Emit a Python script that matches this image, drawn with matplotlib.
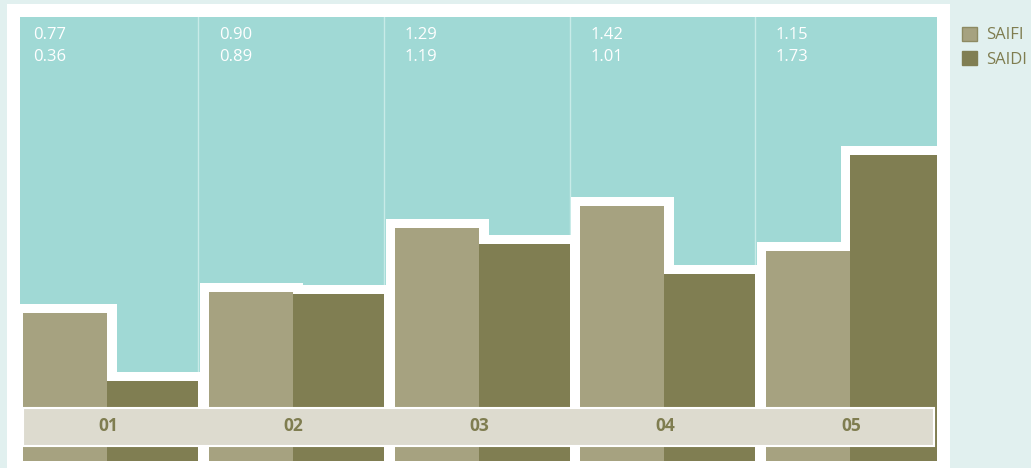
import matplotlib
matplotlib.use("Agg")
import matplotlib.pyplot as plt
from matplotlib.patches import Rectangle, Patch

plt.rcParams['font.family'] = ['Open Sans', 'DejaVu Sans']

# data
categories = ["01", "02", "03", "04", "05"]
saifi = [0.77, 0.90, 1.29, 1.42, 1.15]
saidi = [0.36, 0.89, 1.19, 1.01, 1.73]
series_names = ["SAIFI", "SAIDI"]

# colours
bg = "#e1f0ef"
teal = "#a0d9d5"
c_saifi = "#a6a280"
c_saidi = "#807e52"
band_c = "#dddbcf"
olive_txt = "#7f7d50"

W, H = 1031, 468
fig = plt.figure(figsize=(W / 100, H / 100), dpi=100, facecolor=bg)

# white panel behind the plot
fig.patches.append(Rectangle((7 / W, 0), (950 - 7) / W, (H - 4) / H,
                             transform=fig.transFigure, facecolor="white",
                             edgecolor="none", zorder=-1))

ax = fig.add_axes([20 / W, 0, (937 - 20) / W, (H - 17) / H])
ax.set_zorder(1)
ax.set_facecolor(teal)
ax.set_xticks([])
ax.set_yticks([])
for s in ax.spines.values():
    s.set_visible(False)

# one x unit = one group (185.75 px), one y unit = 164.5 px
w1 = 84 / 185.75
w2 = 91 / 185.75
bottom = -0.128
ax.set_xlim(-3 / 185.75, (937 - 23) / 185.75)
ax.set_ylim(-28 / 164.5, (440 - 17) / 164.5)

x = list(range(len(categories)))
x2 = [i + w1 for i in x]

# thin separators between columns
for i in x[:-1]:
    ax.axvline(i + w1 + w2, color="#c8ebe8", lw=1, zorder=1)

# white halo round each bar
halo = 19 * 72 / 100
for xs, vals, w in [(x, saifi, w1), (x2, saidi, w2)]:
    hb = ax.bar(xs, [v - bottom for v in vals], w, bottom=bottom, align="edge",
                color="white", edgecolor="white", linewidth=halo, zorder=2)
    for p in hb:
        p.set_joinstyle("miter")

ax.bar(x, [v - bottom for v in saifi], w1, bottom=bottom, align="edge",
       color=c_saifi, zorder=3)
ax.bar(x2, [v - bottom for v in saidi], w2, bottom=bottom, align="edge",
       color=c_saidi, zorder=3)

# category band
ax.add_patch(Rectangle((0, -6 / 164.5), (934 - 23) / 185.75, 38 / 164.5,
                       facecolor=band_c, edgecolor="white", lw=1.5, zorder=4))
for i, c in enumerate(categories):
    ax.text(i + w1 + 1 / 185.75, 14 / 164.5, c, ha="center", va="center",
            fontsize=12.5, fontweight="bold", color=olive_txt, zorder=5)

# values at the top of each column
for i in x:
    ax.text(i + 10 / 185.75, (440 - 35) / 164.5, "%.2f" % saifi[i], ha="left",
            va="center", fontsize=12, color="white", zorder=5)
    ax.text(i + 10 / 185.75, (440 - 57) / 164.5, "%.2f" % saidi[i], ha="left",
            va="center", fontsize=12, color="white", zorder=5)

handles = [Patch(facecolor=c_saifi, edgecolor="#8d8a62", lw=1),
           Patch(facecolor=c_saidi, edgecolor=c_saidi, lw=1)]
fig.legend(handles, series_names, loc="upper left",
           bbox_to_anchor=(955 / W, 1 - 20 / H), frameon=False, fontsize=12,
           labelcolor=olive_txt, handlelength=0.9, handleheight=0.9,
           handletextpad=0.55, labelspacing=0.45, borderaxespad=0)

fig.savefig("out.png", dpi=100, facecolor=bg)
